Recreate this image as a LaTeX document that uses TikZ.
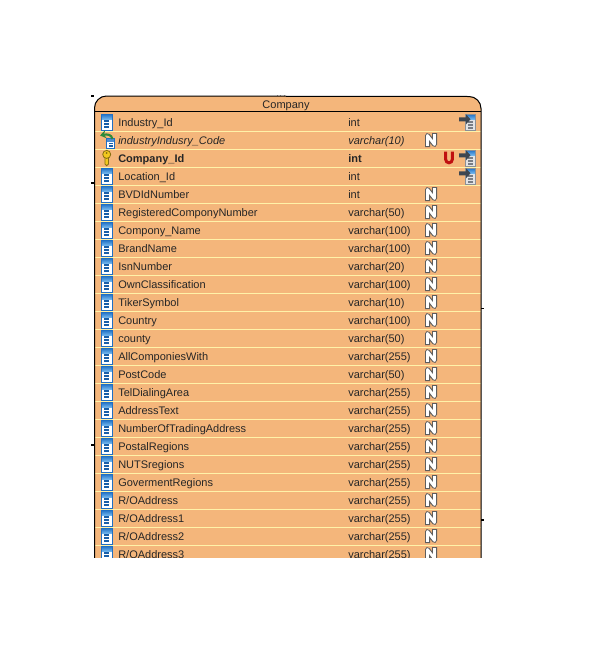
\documentclass[tikz,border=0pt]{standalone}
\usepackage{fontspec}
\usetikzlibrary{arrows.meta}
\setmainfont{Liberation Sans}
\definecolor{tbl}{HTML}{F4B67B}
\definecolor{rowline}{HTML}{FFF2A8}
\definecolor{iconblue}{HTML}{1F6FC4}
\definecolor{iconlight}{HTML}{6FB4EC}
\definecolor{icondark}{HTML}{1A5FA8}
\definecolor{greyN}{HTML}{5E5E5E}
\definecolor{keyy}{HTML}{F2C81E}
\definecolor{uRed}{HTML}{C01010}
\definecolor{arrowgrey}{HTML}{3E4650}
\definecolor{greenback}{HTML}{2E8B3A}
\tikzset{
  x=0.75pt,y=-0.75pt,
  celltext/.style={inner sep=0pt,anchor=base west,font=\fontsize{8.25pt}{10pt}\selectfont,text=black!85},
  rowsep/.style={draw=rowline,line width=0.75pt},
  pics/colicon/.style={code={
    \fill[white] (-5.7,-8) rectangle (5.7,8);
    \shade[top color=iconblue,bottom color=iconlight] (-5.7,-8) rectangle (5.7,-3);
    \draw[iconblue,line width=0.75pt] (-5.7,-8) rectangle (5.7,8);
    \foreach \yy in {-1,2,5}{\fill[icondark] (-2.5,\yy-0.8) rectangle (2.5,\yy+0.8);}
  }},
  pics/fkicon/.style={code={
    \fill[white] (-1,-3) rectangle (7,7.5);
    \fill[iconblue!80] (-1,-3) rectangle (7,0.5);
    \draw[iconblue,line width=0.5pt] (-1,-3) rectangle (7,7.5);
    \foreach \yy in {2.5,5}{\fill[icondark] (1,\yy-0.6) rectangle (5,\yy+0.6);}
    \draw[greenback,line width=1.6pt,-{Stealth[length=4.5pt,width=6pt]}] (5,-2) .. controls (4,-6.5) and (0,-7) .. (-7.5,-5.5);
  }},
  pics/keyicon/.style={code={
    \fill[keyy,draw=black!45!keyy,line width=0.6pt] (-1.8,-1) -- (-1.8,6) -- (0,7.7) -- (1.8,6) -- (1.8,-1) -- cycle;
    \fill[keyy,draw=black!45!keyy,line width=0.6pt] (0,-3.6) circle (4);
    \fill[black!45!keyy] (0,-5) circle (1);
  }},
  pics/refsicon/.style={code={
    \fill[arrowgrey!15] (-2.5,-8) rectangle (7,8);
    \shade[top color=iconblue,bottom color=iconlight] (-2.5,-8) rectangle (7,-3);
    \draw[arrowgrey!60,line width=0.5pt] (-2.5,-8) rectangle (7,8);
    \foreach \yy in {0,3,6}{\fill[arrowgrey!70] (0,\yy-0.7) rectangle (5,\yy+0.7);}
    \fill[arrowgrey] (-9,-4.7) -- (-2,-4.7) -- (-2,-7.7) -- (2.5,-2.7) -- (-2,2.3) -- (-2,-0.7) -- (-9,-0.7) -- cycle;
  }},
  pics/nullicon/.style={code={
    \draw[greyN,line width=3.75pt,line join=round,line cap=rect] (-3.5,4.5) -- (-3.5,-4.5) -- (3.5,4.5) -- (3.5,-4.5);
    \draw[white,line width=2.1pt,line join=round,line cap=rect] (-3.5,4.5) -- (-3.5,-4.5) -- (3.5,4.5) -- (3.5,-4.5);
  }},
  pics/uicon/.style={code={
    \draw[uRed,line width=2.25pt] (-3.3,-6.3) -- (-3.3,1.5) arc[start angle=180,end angle=0,radius=3.3] -- (3.3,-6.3);
  }},
}
\newcommand{\cellrow}[4]{%
  \pgfmathsetmacro{\yb}{126+18*#1}
  \node[celltext] (n#1) at (118,\yb) {#4#2};
  \node[celltext] (t#1) at (348,\yb) {#4#3};
}
\begin{document}
\begin{tikzpicture}
\useasboundingbox (0,0) rectangle (614,657);
\fill[white] (0,0) rectangle (614,657);
\begin{scope}
\clip (90,90) rectangle (490,557);
\fill[tbl] (94.5,700) -- (94.5,108) arc[start angle=180,end angle=270,radius=12] -- (469,96.5) arc[start angle=270,end angle=360,radius=12] -- (481,700) -- cycle;
\foreach \k in {0,...,23}{\draw[rowsep] (95,131+18*\k) -- (480.5,131+18*\k);}
\draw[black,line width=0.75pt] (94.5,700) -- (94.5,108) arc[start angle=180,end angle=270,radius=12] -- (469,96.5) arc[start angle=270,end angle=360,radius=12] -- (481,700);
\draw[black,line width=0.75pt] (94.5,111.5) -- (481,111.5);
\node[celltext,anchor=base] (title) at (286,108) {Company};
\cellrow{0}{Industry\_Id}{int}{}
\cellrow{1}{industryIndusry\_Code}{varchar(10)}{\itshape}
\cellrow{2}{Company\_Id}{int}{\bfseries}
\cellrow{3}{Location\_Id}{int}{}
\cellrow{4}{BVDIdNumber}{int}{}
\cellrow{5}{RegisteredComponyNumber}{varchar(50)}{}
\cellrow{6}{Compony\_Name}{varchar(100)}{}
\cellrow{7}{BrandName}{varchar(100)}{}
\cellrow{8}{IsnNumber}{varchar(20)}{}
\cellrow{9}{OwnClassification}{varchar(100)}{}
\cellrow{10}{TikerSymbol}{varchar(10)}{}
\cellrow{11}{Country}{varchar(100)}{}
\cellrow{12}{county}{varchar(50)}{}
\cellrow{13}{AllComponiesWith}{varchar(255)}{}
\cellrow{14}{PostCode}{varchar(50)}{}
\cellrow{15}{TelDialingArea}{varchar(255)}{}
\cellrow{16}{AddressText}{varchar(255)}{}
\cellrow{17}{NumberOfTradingAddress}{varchar(255)}{}
\cellrow{18}{PostalRegions}{varchar(255)}{}
\cellrow{19}{NUTSregions}{varchar(255)}{}
\cellrow{20}{GovermentRegions}{varchar(255)}{}
\cellrow{21}{R/OAddress}{varchar(255)}{}
\cellrow{22}{R/OAddress1}{varchar(255)}{}
\cellrow{23}{R/OAddress2}{varchar(255)}{}
\cellrow{24}{R/OAddress3}{varchar(255)}{}
\foreach \k in {0,3,4,...,24}{\pic at (106.7,122+18*\k) {colicon};}
\pic at (107.5,141) {fkicon};
\pic at (106.7,158) {keyicon};
\foreach \k in {1,4,5,...,24}{\pic at (431,122+18*\k) {nullicon};}
\pic at (449,158) {uicon};
\foreach \k in {0,2,3}{\pic at (468,122+18*\k) {refsicon};}
\end{scope}
% tiny handle marks on the frame
\foreach \xx/\yy in {92/96,92/183,92/445,482/308.5,482/520}{\fill[black] (\xx-1,\yy-0.8) rectangle (\xx+1.5,\yy+0.8);}
\foreach \xx in {277,280.5,284}{\fill[black!60] (\xx-0.5,94.5) rectangle (\xx+0.5,95.5);}
\end{tikzpicture}
\end{document}
